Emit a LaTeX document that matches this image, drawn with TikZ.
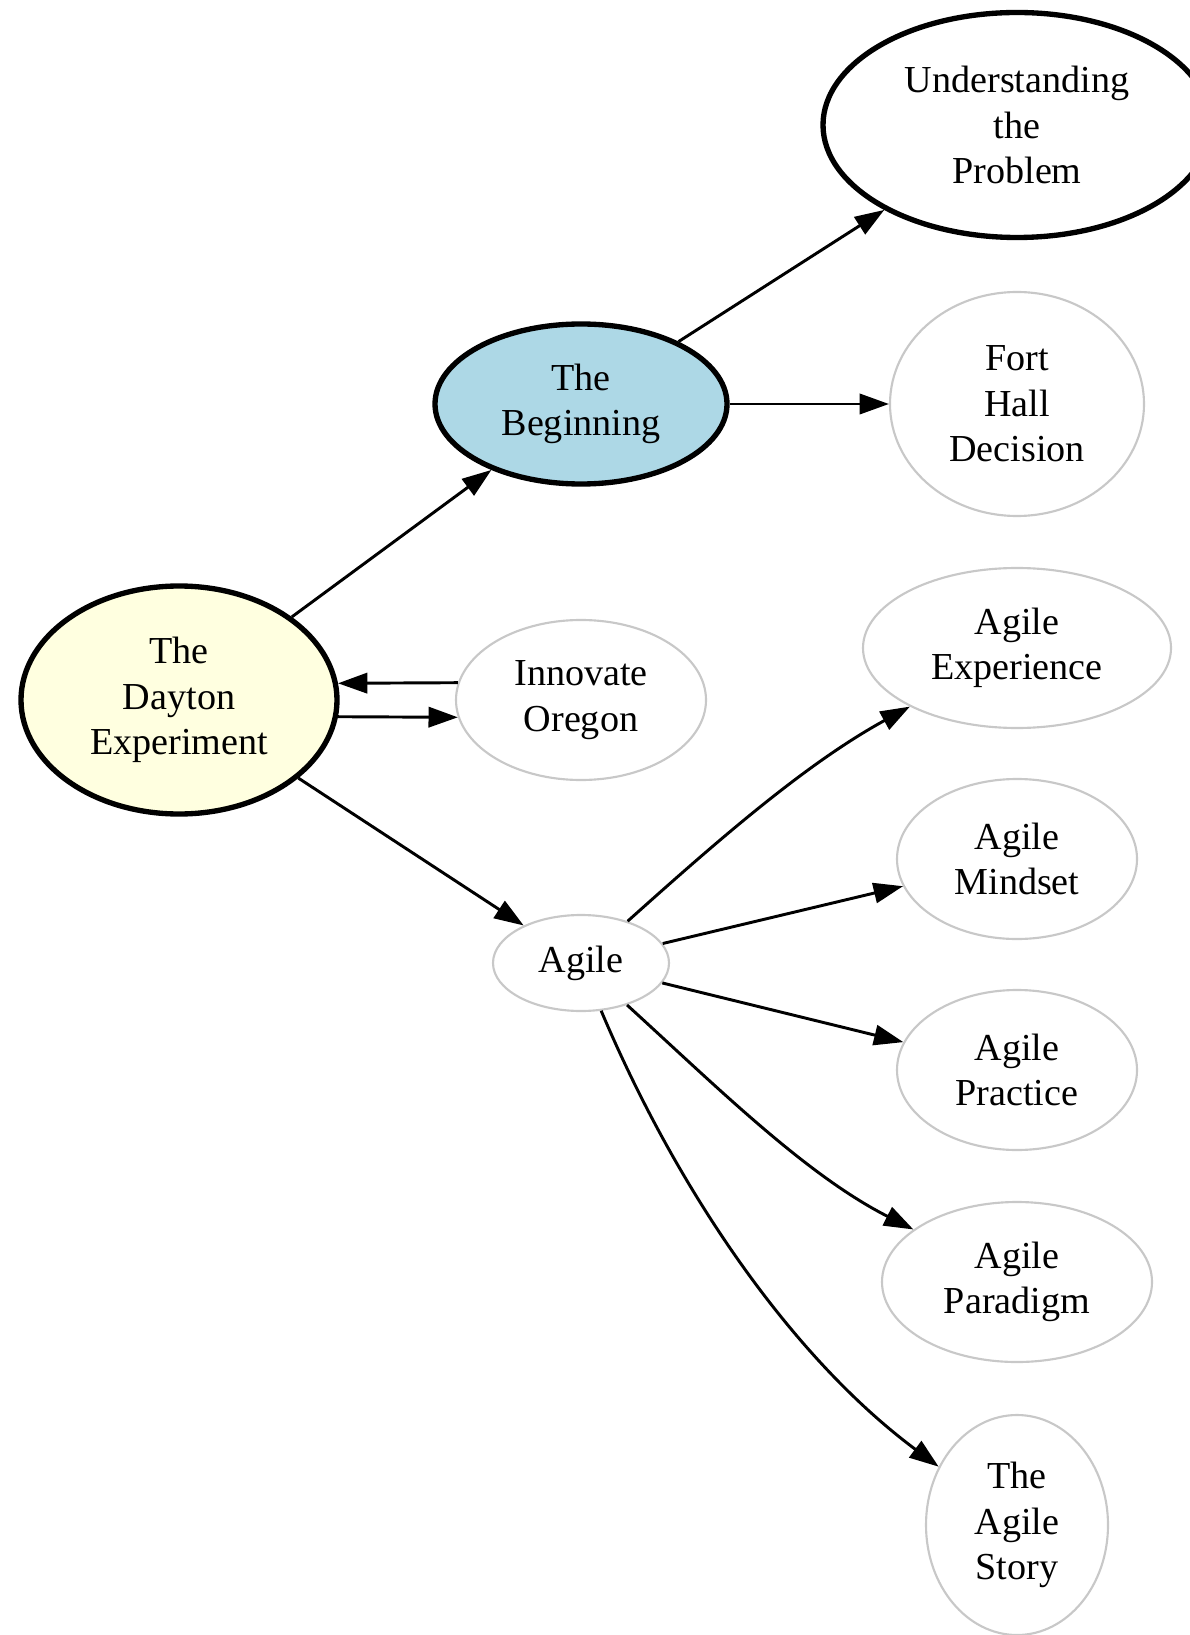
\documentclass[tikz,border=0pt]{standalone}
\usepackage{fontspec}
\setmainfont{Liberation Serif}
\usetikzlibrary{shapes.geometric,arrows.meta}
% one drawing unit = one pixel of the finished 1189 x 1635 image
\newlength\pxu
\setlength\pxu{0.375pt}
\definecolor{nodegray}{RGB}{200,200,200}
\definecolor{beginblue}{RGB}{173,216,230}
\definecolor{daytonyellow}{RGB}{255,255,224}
\begin{document}
\begin{tikzpicture}[x=0.375pt,y=-0.375pt,
  topic/.style={ellipse, draw=nodegray, line width=0.8pt, inner sep=0pt,
    align=center, font=\fontsize{14.3pt}{17pt}\selectfont},
  hub/.style={topic, draw=black, line width=2pt},
  sz/.style 2 args={minimum width=#1\pxu, minimum height=#2\pxu},
  link/.style={-{Triangle[length=11pt,width=7.6pt]}, line width=1.1pt, black}
]
\useasboundingbox (0,0) rectangle (1189,1635);

% nodes
\node[hub, sz={388}{225}] (up) at (1017,125) {Understanding\\the\\Problem};
\node[hub, sz={292}{160}, fill=beginblue] (beg) at (581,404) {The\\Beginning};
\node[topic, sz={254}{224}] (fort) at (1017,404) {Fort\\Hall\\Decision};
\node[topic, sz={308}{160}] (aexp) at (1017,648) {Agile\\Experience};
\node[hub, sz={316}{228}, fill=daytonyellow] (day) at (179,700) {The\\Dayton\\Experiment};
\node[topic, sz={250}{160}] (inn) at (581,700) {Innovate\\Oregon};
\node[topic, sz={240}{160}] (amind) at (1017,859) {Agile\\Mindset};
\node[topic, sz={176}{96}] (ag) at (581,963) {Agile};
\node[topic, sz={240}{160}] (aprac) at (1017,1070) {Agile\\Practice};
\node[topic, sz={270}{160}] (apar) at (1017,1282) {Agile\\Paradigm};
\node[topic, sz={182}{220}] (story) at (1017,1525) {The\\Agile\\Story};

% connectors
\draw[link] (beg) -- (up);
\draw[link] (beg) -- (fort);
\draw[link] (day) -- (beg);
\draw[link] (inn.172.08) -- (day.6.2);
\draw[link] (day.-6.58) -- (inn.188.41);
\draw[link] (day) -- (ag);
\draw[link] (ag) .. controls (716,842) and (805,764) .. (aexp);
\draw[link] (ag) -- (amind);
\draw[link] (ag) -- (aprac);
\draw[link] (ag) .. controls (718,1088) and (806,1175) .. (apar);
\draw[link] (ag) .. controls (676,1188) and (790,1356) .. (story);
\end{tikzpicture}
\end{document}
